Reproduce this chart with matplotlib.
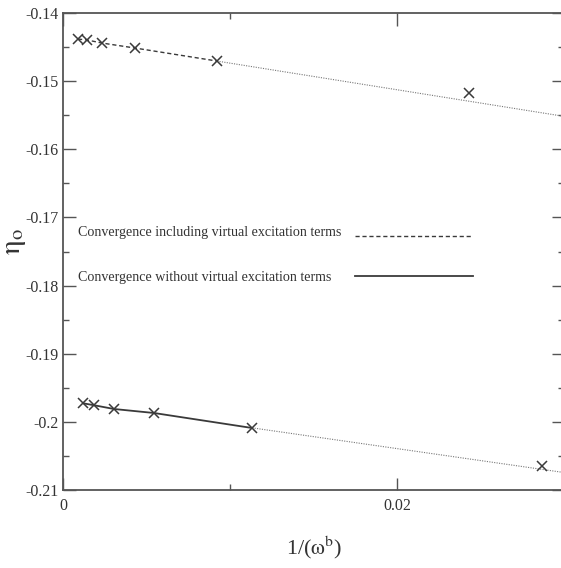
import matplotlib
matplotlib.use("Agg")
import matplotlib.pyplot as plt
import numpy as np

plt.rcParams['font.family'] = ['Liberation Serif', 'DejaVu Serif']
plt.rcParams['mathtext.fontset'] = 'stix'

# eta_0 against 1/(omega^b) for the two convergence schemes
x_with = [0.00090, 0.00144, 0.00234, 0.00431, 0.00922, 0.02431]
y_with = [-0.14382, -0.14396, -0.14441, -0.14514, -0.14705, -0.15175]

x_without = [0.00120, 0.00186, 0.00305, 0.00545, 0.01132, 0.02868]
y_without = [-0.19727, -0.19756, -0.19811, -0.19870, -0.20090, -0.20652]

labels = ['Convergence including virtual excitation terms',
          'Convergence without virtual excitation terms']

n_fit = 5  # points used for the linear extrapolation
x_max = 0.03

ink = '#3a3a3a'
dashed = (0, (3, 2))

fig = plt.figure(figsize=(5.61, 5.68), dpi=100)
ax = fig.add_axes([0.1123, 0.1373, 0.8937, 0.8398])

# connecting lines through the converged points
ax.plot(x_with[:n_fit], y_with[:n_fit], color=ink, lw=1.0, ls=dashed)
ax.plot(x_without[:n_fit], y_without[:n_fit], color=ink, lw=1.3)

# dotted extrapolation of a straight-line fit
for xs, ys in [(x_with, y_with), (x_without, y_without)]:
    k, b = np.polyfit(xs[:n_fit], ys[:n_fit], 1)
    xe = np.array([xs[n_fit - 1], x_max])
    ax.plot(xe, k * xe + b, color='#777777', lw=0.8, ls=(0, (1, 1.2)))

ax.plot(x_with, y_with, 'x', color=ink, ms=7, mew=1.1)
ax.plot(x_without, y_without, 'x', color=ink, ms=7, mew=1.1)

# key: text first, line sample after it
for (ty, ly, ls, lw), lab in zip([(0.539, 0.5325, dashed, 1.0),
                                  (0.4465, 0.4486, '-', 1.3)], labels):
    ax.text(0.030, ty, lab, transform=ax.transAxes, fontsize=10.1,
            color='#333333', va='center', ha='left')
    ax.plot([0.583, 0.818], [ly, ly], transform=ax.transAxes,
            color=ink, lw=lw, ls=ls)

ax.set_xlim(0, x_max)
ax.set_ylim(-0.21, -0.14)
ax.set_xticks([0, 0.02])
ax.set_xticklabels(['0', '0.02'])
ax.set_xticks([0.01], minor=True)
ax.set_yticks(np.arange(-0.21, -0.1399, 0.01))
ax.set_yticklabels(['-0.21', '-0.2', '-0.19', '-0.18', '-0.17', '-0.16', '-0.15', '-0.14'])
ax.set_yticks(np.arange(-0.205, -0.14, 0.01), minor=True)

ax.tick_params(which='both', direction='in', top=True, right=True,
               colors='#555555', labelcolor='#333333', labelsize=11.5, width=1.0)
ax.tick_params(which='major', length=9)
ax.tick_params(which='minor', length=4)
ax.tick_params(axis='x', pad=6)
for s in ax.spines.values():
    s.set_color('#555555')
    s.set_linewidth(1.3)

ax.set_xlabel(r'1/($\mathrm{\omega}^{\mathrm{b}}$)', fontsize=16, color='#333333', labelpad=14)
ax.set_ylabel(r'$\mathrm{\eta}_\mathrm{o}$', fontsize=21, color='#333333')
ax.yaxis.set_label_coords(-0.07, 0.52)

fig.savefig('out.png', dpi=100)
